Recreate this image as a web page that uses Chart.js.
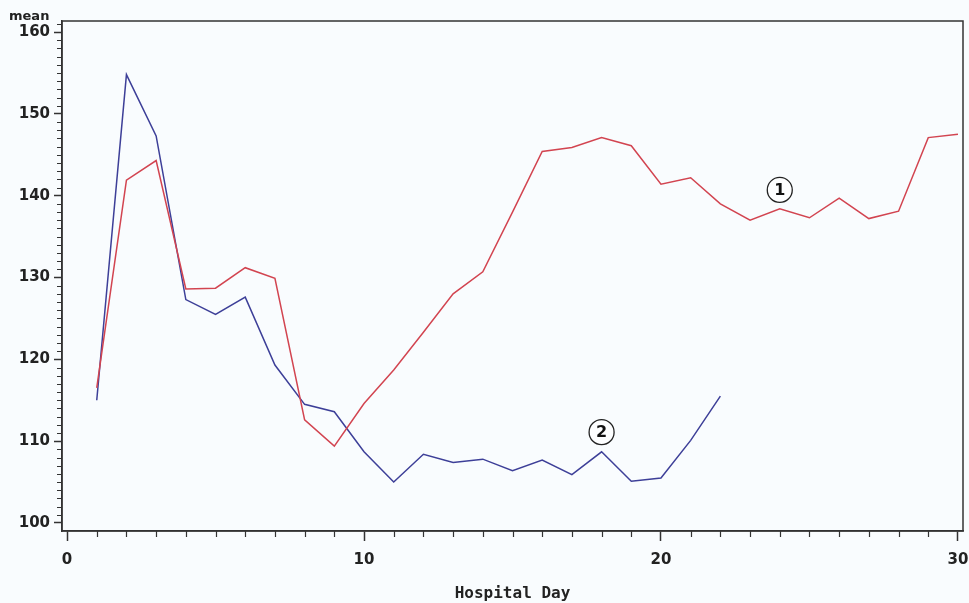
<!DOCTYPE html>
<html>
<head>
<meta charset="utf-8">
<script src="https://cdn.jsdelivr.net/npm/chart.js@4/dist/chart.umd.min.js"></script>
<style>
  html, body { margin: 0; padding: 0; background: #f9fcfe; }
  #wrap { width: 969px; height: 603px; }
</style>
</head>
<body>
<div id="wrap"><canvas id="meanChart" width="969" height="603"></canvas></div>
<script>
// Data
const days = [1, 2, 3, 4, 5, 6, 7, 8, 9, 10, 11, 12, 13, 14, 15, 16, 17, 18, 19, 20, 21, 22, 23, 24, 25, 26, 27, 28, 29, 30];
const group1 = [116.5, 141.9, 144.3, 128.6, 128.7, 131.2, 129.9, 112.6, 109.4, 114.6, 118.7, 123.3, 128.0, 130.7, 138.0, 145.4, 145.9, 147.1, 146.1, 141.4, 142.2, 139.0, 137.0, 138.4, 137.3, 139.7, 137.2, 138.1, 147.1, 147.5];
const group2 = [115.0, 154.8, 147.3, 127.3, 125.5, 127.6, 119.3, 114.5, 113.6, 108.7, 105.0, 108.4, 107.4, 107.8, 106.4, 107.7, 105.9, 108.7, 105.1, 105.5, 110.1, 115.5];
const xTicks = [0, 10, 20, 30];
const yTicks = [100, 110, 120, 130, 140, 150, 160];

// Circled group labels (data coordinates)
const labelText = ['1', '2'];
const labelX = [24, 18];
const labelY = [140.7, 111.1];

const MONO = '"DejaVu Sans Mono", monospace';
const SANS = '"DejaVu Sans", sans-serif';
const AXIS = '#333';

// Frame, minor ticks, "mean" and circled labels
const extras = {
    id: 'extras',
    afterDraw(chart) {
        const c = chart.ctx;
        const a = chart.chartArea;
        const xs = chart.scales.x;
        const ys = chart.scales.y;
        c.save();
        c.strokeStyle = AXIS;
        c.lineWidth = 1.5;
        c.strokeRect(a.left, a.top, a.right - a.left, a.bottom - a.top);

        // minor ticks
        c.lineWidth = 1.2;
        c.beginPath();
        for (let v = 100; v <= 161; v++) {
            if (v % 10 === 0) continue;
            const y = Math.round(ys.getPixelForValue(v)) + 0.5;
            c.moveTo(a.left - 5, y);
            c.lineTo(a.left, y);
        }
        for (let d = 0; d <= 30; d++) {
            if (d % 10 === 0) continue;
            const x = Math.round(xs.getPixelForValue(d)) + 0.5;
            c.moveTo(x, a.bottom);
            c.lineTo(x, a.bottom + 6);
        }
        c.stroke();

        // "mean"
        c.fillStyle = '#222';
        c.font = 'bold 13px ' + SANS;
        c.textAlign = 'left';
        c.textBaseline = 'alphabetic';
        c.fillText('mean', 9, 20);

        // circled labels
        c.font = 'bold 16px ' + SANS;
        c.textAlign = 'center';
        c.textBaseline = 'middle';
        labelText.forEach((t, i) => {
            const x = xs.getPixelForValue(labelX[i]);
            const y = ys.getPixelForValue(labelY[i]);
            c.beginPath();
            c.arc(x, y, 12.5, 0, Math.PI * 2);
            c.fillStyle = '#fdfeff';
            c.fill();
            c.lineWidth = 1.3;
            c.strokeStyle = '#222';
            c.stroke();
            c.fillStyle = '#111';
            c.fillText(t, x, y + 1);
        });
        c.restore();
    }
};

const ctx = document.getElementById('meanChart').getContext('2d');
const meanChart = new Chart(ctx, {
    type: 'line',
    data: {
        datasets: [{
            label: '1',
            data: days.map((d, i) => ({ x: d, y: group1[i] })),
            borderColor: '#d24450',
            borderWidth: 1.5,
            pointRadius: 0,
            tension: 0,
            fill: false
        }, {
            label: '2',
            data: group2.map((v, i) => ({ x: days[i], y: v })),
            borderColor: '#3d3f98',
            borderWidth: 1.5,
            pointRadius: 0,
            tension: 0,
            fill: false
        }]
    },
    options: {
        responsive: false,
        animation: false,
        layout: { padding: { left: 0, right: 6, top: 21, bottom: 0 } },
        plugins: {
            legend: { display: false },
            tooltip: { enabled: false }
        },
        scales: {
            x: {
                type: 'linear',
                min: -0.17,
                max: 30.17,
                afterBuildTicks: s => { s.ticks = xTicks.map(v => ({ value: v })); },
                afterFit: s => { s.height = 72; s.paddingLeft = 0; s.paddingRight = 0; },
                grid: { display: true, drawOnChartArea: false, tickLength: 10, tickColor: AXIS, tickWidth: 1.5 },
                border: { display: true, color: AXIS, width: 1.5 },
                ticks: { color: '#222', font: { family: SANS, size: 15, weight: 'bold' }, padding: 10, maxRotation: 0 },
                title: {
                    display: true,
                    text: 'Hospital Day',
                    color: '#222',
                    font: { family: MONO, size: 16, weight: 'bold' },
                    padding: { top: 0, bottom: 0 }
                }
            },
            y: {
                type: 'linear',
                min: 99.02,
                max: 161.35,
                afterBuildTicks: s => { s.ticks = yTicks.map(v => ({ value: v })); },
                afterFit: s => { s.width = 62; s.paddingTop = 0; s.paddingBottom = 0; },
                grid: { display: true, drawOnChartArea: false, tickLength: 8, tickColor: AXIS, tickWidth: 1.5 },
                border: { display: true, color: AXIS, width: 1.5 },
                ticks: { color: '#222', font: { family: SANS, size: 15, weight: 'bold' }, padding: 4 }
            }
        }
    },
    plugins: [extras]
});
</script>
</body>
</html>
